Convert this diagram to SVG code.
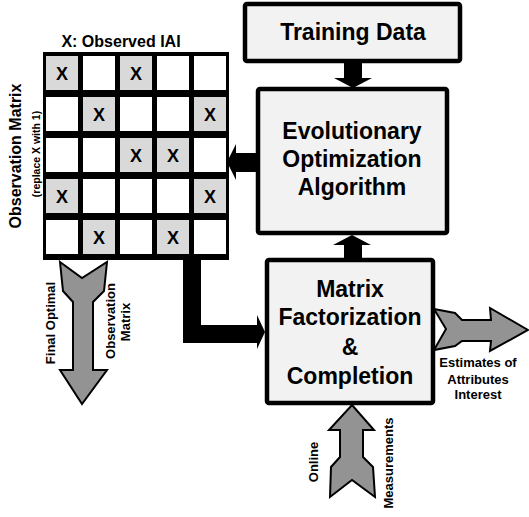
<svg xmlns="http://www.w3.org/2000/svg" width="529" height="517" viewBox="0 0 529 517">
<style>
.t{font-family:"Liberation Sans",Arial,sans-serif;font-weight:bold;fill:#000;text-anchor:middle}
.box{fill:#f2f2f2;stroke:#000;stroke-width:4.5}
.cw{fill:#fff}
.cg{fill:#d9d9d9}
.x{font-size:18px}
.ga{fill:#939393;stroke:#000;stroke-width:2;stroke-linejoin:miter}
</style>
<rect width="529" height="517" fill="#fff"/>
<g id="matrix">
<text class="t" x="121" y="47" font-size="16">X: Observed IAI</text>
<rect x="43" y="52" width="186" height="208" fill="#000"/>
<g>
<rect class="cg" x="46" y="56" width="32" height="34"/><rect class="cw" x="83" y="56" width="32" height="34"/><rect class="cg" x="120" y="56" width="32" height="34"/><rect class="cw" x="157" y="56" width="32" height="34"/><rect class="cw" x="194" y="56" width="32" height="34"/>
<rect class="cw" x="46" y="97" width="32" height="34"/><rect class="cg" x="83" y="97" width="32" height="34"/><rect class="cw" x="120" y="97" width="32" height="34"/><rect class="cw" x="157" y="97" width="32" height="34"/><rect class="cg" x="194" y="97" width="32" height="34"/>
<rect class="cw" x="46" y="138" width="32" height="34"/><rect class="cw" x="83" y="138" width="32" height="34"/><rect class="cg" x="120" y="138" width="32" height="34"/><rect class="cg" x="157" y="138" width="32" height="34"/><rect class="cw" x="194" y="138" width="32" height="34"/>
<rect class="cg" x="46" y="179" width="32" height="34"/><rect class="cw" x="83" y="179" width="32" height="34"/><rect class="cw" x="120" y="179" width="32" height="34"/><rect class="cw" x="157" y="179" width="32" height="34"/><rect class="cg" x="194" y="179" width="32" height="34"/>
<rect class="cw" x="46" y="220" width="32" height="34"/><rect class="cg" x="83" y="220" width="32" height="34"/><rect class="cw" x="120" y="220" width="32" height="34"/><rect class="cg" x="157" y="220" width="32" height="34"/><rect class="cw" x="194" y="220" width="32" height="34"/>
</g>
<g class="t x">
<text x="62" y="80">X</text><text x="136" y="80">X</text>
<text x="99" y="121">X</text><text x="210" y="121">X</text>
<text x="136" y="162">X</text><text x="173" y="162">X</text>
<text x="62" y="203">X</text><text x="210" y="203">X</text>
<text x="99" y="244">X</text><text x="173" y="244">X</text>
</g>
<text class="t" font-size="16" transform="translate(21,156) rotate(-90)">Observation Matrix</text>
<text class="t" font-size="10.5" transform="translate(40,154) rotate(-90)">(replace X with 1)</text>
</g>
<g id="training">
<rect class="box" x="245" y="4" width="215" height="57" rx="2"/>
<text class="t" x="353" y="40" font-size="23">Training Data</text>
</g>
<g id="evolutionary">
<rect class="box" x="258" y="89" width="189" height="144" rx="2"/>
<text class="t" x="352" y="139" font-size="23">Evolutionary</text>
<text class="t" x="352" y="167" font-size="23">Optimization</text>
<text class="t" x="352" y="195" font-size="23">Algorithm</text>
</g>
<g id="factorization">
<rect class="box" x="267" y="260" width="166" height="143" rx="2"/>
<text class="t" x="350" y="297" font-size="23">Matrix</text>
<text class="t" x="350" y="325" font-size="23">Factorization</text>
<text class="t" x="350" y="355" font-size="23">&amp;</text>
<text class="t" x="350" y="384" font-size="23">Completion</text>
</g>
<g id="connectors">
<polygon fill="#000" points="344,63 362,63 362,78 372,78 353,88 334,78 344,78"/>
<polygon fill="#000" points="256,153 256,172 236,172 236,180 227,162 236,144 236,153"/>
<polygon fill="#000" points="344,258 362,258 362,245 371,245 352,235 333,245 344,245"/>
<polygon fill="#000" points="183,260 201,260 201,325 257,325 257,315 265,332 257,349 257,343 183,343"/>
<polygon class="ga" points="60,262 82,278 107,262 104,291 93,302 93,370 107,370 82,404 60,370 73,370 73,302 63,291"/>
<polygon class="ga" points="352,405 374,430 363,430 363,457 373,467 375,497 352,480 330,497 331,467 340,457 340,430 329,430"/>
<polygon class="ga" points="434,309 455,313 462,320 491,320 490,308 528,330 490,351 491,341 462,341 455,346 434,350 446,329"/>
</g>
<g id="labels">
<text class="t" font-size="13" transform="translate(55,323) rotate(-90)">Final Optimal</text>
<text class="t" font-size="13" transform="translate(115,321) rotate(-90)">Observation</text>
<text class="t" font-size="13" transform="translate(130,322) rotate(-90)">Matrix</text>
<text class="t" font-size="13" transform="translate(318,462) rotate(-90)">Online</text>
<text class="t" font-size="13" transform="translate(393,463) rotate(-90)">Measurements</text>
<text class="t" font-size="13" x="478" y="367">Estimates of</text>
<text class="t" font-size="13" x="478" y="384">Attributes</text>
<text class="t" font-size="13" x="478" y="399">Interest</text>
</g>
</svg>
